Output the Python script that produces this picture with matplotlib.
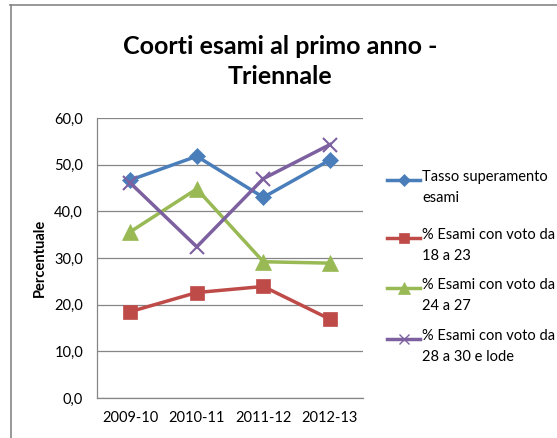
import matplotlib.pyplot as plt
from matplotlib.lines import Line2D

# =========================
# DATA
# =========================
anni = ["2009-10", "2010-11", "2011-12", "2012-13"]

tasso_superamento = [46.7, 51.8, 43.0, 51.0]
voto_18_23 = [18.5, 22.6, 23.9, 16.9]
voto_24_27 = [35.6, 44.8, 29.2, 28.9]
voto_28_30 = [46.1, 32.4, 47.0, 54.3]

y_ticks = [0, 10, 20, 30, 40, 50, 60]
y_tick_labels = ["0,0", "10,0", "20,0", "30,0", "40,0", "50,0", "60,0"]

serie = [
    ("Tasso superamento\nesami", tasso_superamento, "#4A7EBB", "D", 8),
    ("% Esami con voto da\n18 a 23", voto_18_23, "#BE4B48", "s", 10),
    ("% Esami con voto da\n24 a 27", voto_24_27, "#98B954", "^", 11),
    ("% Esami con voto da\n28 a 30 e lode", voto_28_30, "#7D60A0", "x", 10),
]

FONT = ["Lato", "DejaVu Sans"]
plt.rcParams["font.family"] = FONT

# =========================
# FIGURE
# =========================
fig = plt.figure(figsize=(5.57, 4.38), dpi=100)
ax = fig.add_axes([0.174, 0.0913, 0.478, 0.6393])

x = range(len(anni))
for label, vals, color, marker, ms in serie:
    ax.plot(x, vals, color=color, linewidth=2.5, marker=marker,
            markersize=ms, markeredgewidth=1.5 if marker == "x" else 0.5,
            markeredgecolor=color, markerfacecolor=color, zorder=3)

ax.set_xlim(-0.5, len(anni) - 0.5)
ax.set_ylim(0, 60)
ax.set_xticks(list(x))
ax.set_xticklabels(anni, fontsize=10.5)
ax.set_yticks(y_ticks)
ax.set_yticklabels(y_tick_labels, fontsize=10.5)
ax.tick_params(axis="both", length=0, pad=10, colors="#000000")
ax.tick_params(axis="x", pad=9)

ax.grid(axis="y", color="#868686", linewidth=0.9)
ax.set_axisbelow(True)
for s in ["top", "right"]:
    ax.spines[s].set_visible(False)
for s in ["left", "bottom"]:
    ax.spines[s].set_color("#868686")
    ax.spines[s].set_linewidth(0.9)

ax.set_ylabel("Percentuale", fontsize=10.5, fontweight="bold", labelpad=5)

fig.text(0.503, 0.86, "Coorti esami al primo anno -\nTriennale",
         ha="center", va="center", fontsize=18, fontweight="bold",
         linespacing=1.4)

# =========================
# LEGEND (manual, handle aligned to first text line)
# =========================
W, H = 557, 438
leg_y = [180, 238, 288, 339]
for (label, vals, color, marker, ms), yy in zip(serie, leg_y):
    fy = 1 - yy / H
    fig.add_artist(Line2D([387 / W, 420 / W], [fy, fy], color=color,
                          linewidth=2.5))
    fig.add_artist(Line2D([403.5 / W], [fy], color=color, marker=marker,
                          markersize=ms * 0.75,
                          markeredgewidth=1.0 if marker == "x" else 0.5,
                          markerfacecolor=color, markeredgecolor=color))
    fig.text(422 / W, fy + 10 / H, label, ha="left", va="top",
             fontsize=10.5, linespacing=1.6)

# chart border
fig.add_artist(Line2D([10 / W, 1], [1 - 5 / H, 1 - 5 / H],
                      color="#868686", linewidth=1.2))
fig.add_artist(Line2D([11 / W, 11 / W], [0, 1 - 5 / H],
                      color="#868686", linewidth=1.2))

fig.savefig("out.png", dpi=100)
